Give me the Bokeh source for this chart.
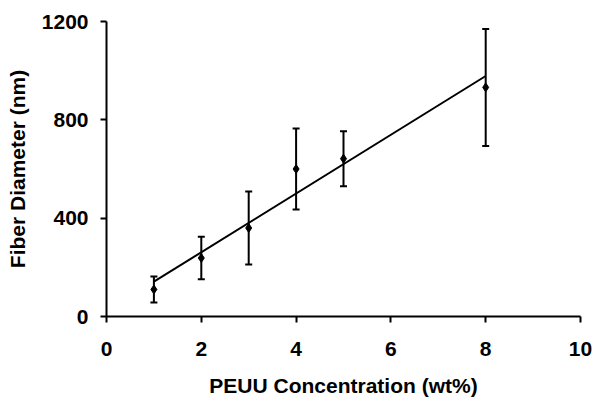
import numpy as np
from bokeh.plotting import figure
from bokeh.models import ColumnDataSource, Whisker, TeeHead, Range1d, FixedTicker
from bokeh.embed import file_html
from bokeh.resources import INLINE

# Data
concentration = [1, 2, 3, 4, 5, 8]          # PEUU concentration (wt%)
diameter = [110, 238, 360, 600, 642, 932]    # mean fiber diameter (nm)
diameter_err = [53, 86, 148, 165, 112, 238]  # standard deviation (nm)
x_ticks = [0, 2, 4, 6, 8, 10]
y_ticks = [0, 400, 800, 1200]

upper = [m + e for m, e in zip(diameter, diameter_err)]
lower = [m - e for m, e in zip(diameter, diameter_err)]
src = ColumnDataSource(dict(x=concentration, y=diameter, upper=upper, lower=lower))

# Linear trend line through the data
slope, intercept = np.polyfit(concentration, diameter, 1)
tx = [min(concentration), max(concentration)]
ty = [slope * v + intercept for v in tx]

FONT = "Liberation Sans"

p = figure(width=593, height=399, output_backend="svg", toolbar_location=None,
           x_range=Range1d(0, 10), y_range=Range1d(0, 1200),
           min_border_left=106, min_border_right=13, min_border_top=21, min_border_bottom=82)
p.outline_line_color = None
p.grid.grid_line_color = None
p.background_fill_color = "white"
p.border_fill_color = "white"

p.line(tx, ty, line_color="black", line_width=2)

w = Whisker(base="x", upper="upper", lower="lower", source=src,
            line_color="black", line_width=2,
            upper_head=TeeHead(size=7, line_width=2, line_color="black"),
            lower_head=TeeHead(size=7, line_width=2, line_color="black"))
p.add_layout(w)

p.scatter("x", "y", source=src, marker="diamond", size=9,
          fill_color="black", line_color="black")

for ax in (p.xaxis[0], p.yaxis[0]):
    ax.axis_line_width = 2
    ax.axis_line_color = "black"
    ax.major_tick_line_width = 2
    ax.major_tick_line_color = "black"
    ax.major_tick_in = 0
    ax.major_tick_out = 6
    ax.minor_tick_line_color = None
    ax.major_label_text_font = FONT
    ax.major_label_text_font_style = "bold"
    ax.major_label_text_font_size = "21px"
    ax.major_label_text_color = "black"
    ax.axis_label_text_font = FONT
    ax.axis_label_text_font_style = "bold"
    ax.axis_label_text_font_size = "21px"
    ax.axis_label_text_color = "black"

p.xaxis.ticker = FixedTicker(ticks=x_ticks)
p.yaxis.ticker = FixedTicker(ticks=y_ticks)
p.xaxis.axis_label = "PEUU Concentration (wt%)"
p.yaxis.axis_label = "Fiber Diameter (nm)"
p.xaxis.major_label_standoff = 19
p.yaxis.major_label_standoff = 12
p.xaxis.axis_label_standoff = 15
p.yaxis.axis_label_standoff = 10

open("out.html", "w").write(file_html(p, INLINE))
